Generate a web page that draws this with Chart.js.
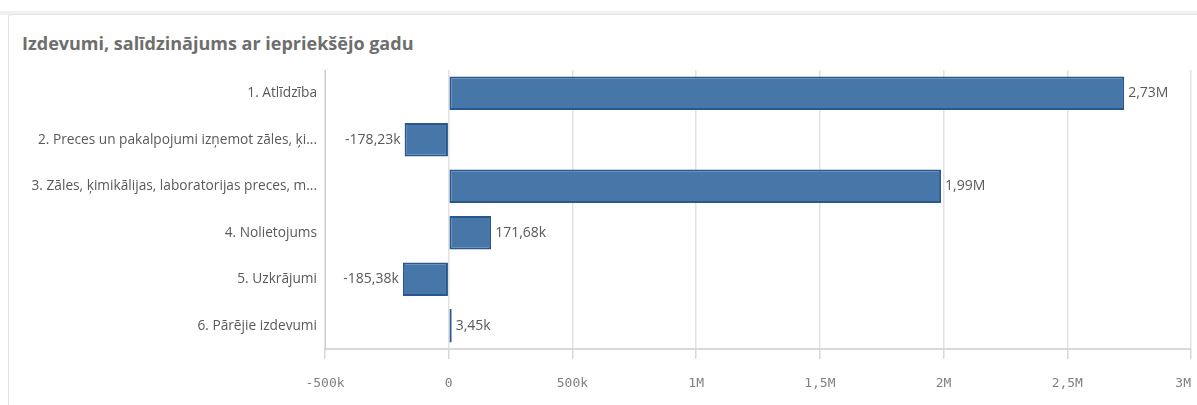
<!DOCTYPE html>
<html>
<head>
<meta charset="utf-8">
<script src="https://cdn.jsdelivr.net/npm/chart.js@4"></script>
<style>
    body { margin: 0; background: #fff; width: 1197px; height: 405px; overflow: hidden; position: relative; font-family: "Open Sans", sans-serif; }
    .strip { position: absolute; left: 0; top: 11px; width: 1197px; height: 4px; background: #f0f0f0; }
    .card { position: absolute; left: 8px; top: 14px; width: 1200px; height: 400px; border-left: 1px solid #e3e3e3; border-top: 1px solid #e3e3e3; border-top-left-radius: 4px; }
    .title { position: absolute; left: 22px; top: 31px; font-size: 18px; font-weight: 700; color: #6e6e6e; white-space: nowrap; }
    #wrap { position: absolute; left: 0; top: 60px; width: 1220px; height: 345px; }
</style>
</head>
<body>
<div class="strip"></div>
<div class="card"></div>
<div class="title">Izdevumi, salīdzinājums ar iepriekšējo gadu</div>
<div id="wrap"><canvas id="chart"></canvas></div>
<script>
// Categories and values
const categories = [
    '1. Atlīdzība',
    '2. Preces un pakalpojumi izņemot zāles, ķi...',
    '3. Zāles, ķimikālijas, laboratorijas preces, m...',
    '4. Nolietojums',
    '5. Uzkrājumi',
    '6. Pārējie izdevumi'
];
const changeValues = [2730000, -178230, 1990000, 171680, -185380, 3450];
const tickLabels = { '-500000': '-500k', '0': '0', '500000': '500k', '1000000': '1M', '1500000': '1,5M', '2000000': '2M', '2500000': '2,5M', '3000000': '3M  ' };

// Qlik style number formatting with decimal comma
function formatValue(v) {
    const a = Math.abs(v);
    if (a >= 1000000) return (v / 1000000).toFixed(2).replace('.', ',') + 'M';
    return (v / 1000).toFixed(2).replace('.', ',') + 'k';
}

// Draw value labels next to bar ends
const valueLabels = {
    id: 'valueLabels',
    afterDatasetsDraw(chart) {
        const ctx = chart.ctx;
        const meta = chart.getDatasetMeta(0);
        ctx.save();
        ctx.font = '14px "Open Sans"';
        ctx.fillStyle = '#595959';
        ctx.textBaseline = 'middle';
        meta.data.forEach((bar, i) => {
            const v = changeValues[i];
            if (v >= 0) {
                ctx.textAlign = 'left';
                ctx.fillText(formatValue(v), bar.x + 4, bar.y);
            } else {
                ctx.textAlign = 'right';
                ctx.fillText(formatValue(v), bar.x - 4, bar.y);
            }
        });
        ctx.restore();
    }
};

const ctx = document.getElementById('chart').getContext('2d');
new Chart(ctx, {
    type: 'bar',
    data: {
        labels: categories,
        datasets: [{
            data: changeValues,
            backgroundColor: '#4677a8',
            borderColor: '#285890',
            borderWidth: 2,
            borderSkipped: false,
            minBarLength: 3,
            barPercentage: 0.72,
            categoryPercentage: 1
        }]
    },
    options: {
        indexAxis: 'y',
        responsive: true,
        maintainAspectRatio: false,
        animation: false,
        layout: { padding: { top: 10, left: 0, right: 29, bottom: 0 } },
        plugins: {
            legend: { display: false },
            tooltip: { enabled: false }
        },
        scales: {
            x: {
                min: -500000,
                max: 3000000,
                afterFit: scale => { scale.height = 56; },
                afterBuildTicks: scale => {
                    scale.ticks = Object.keys(tickLabels).map(v => ({ value: Number(v) }));
                },
                ticks: {
                    color: '#808080',
                    font: { family: '"DejaVu Sans Mono"', size: 13 },
                    padding: 17,
                    maxRotation: 0,
                    callback: v => tickLabels[String(v)]
                },
                grid: {
                    color: '#e2e2e2',
                    lineWidth: 1.5,
                    tickLength: 10,
                    tickColor: '#d8d8d8'
                },
                border: { color: '#d8d8d8', width: 2 }
            },
            y: {
                afterFit: scale => { scale.width = 325; },
                ticks: {
                    color: '#595959',
                    font: { family: '"Open Sans"', size: 13.7 },
                    padding: 0,
                    crossAlign: 'near'
                },
                grid: { display: false },
                border: { color: '#d0d0d0', width: 1 }
            }
        }
    },
    plugins: [valueLabels]
});
</script>
</body>
</html>
